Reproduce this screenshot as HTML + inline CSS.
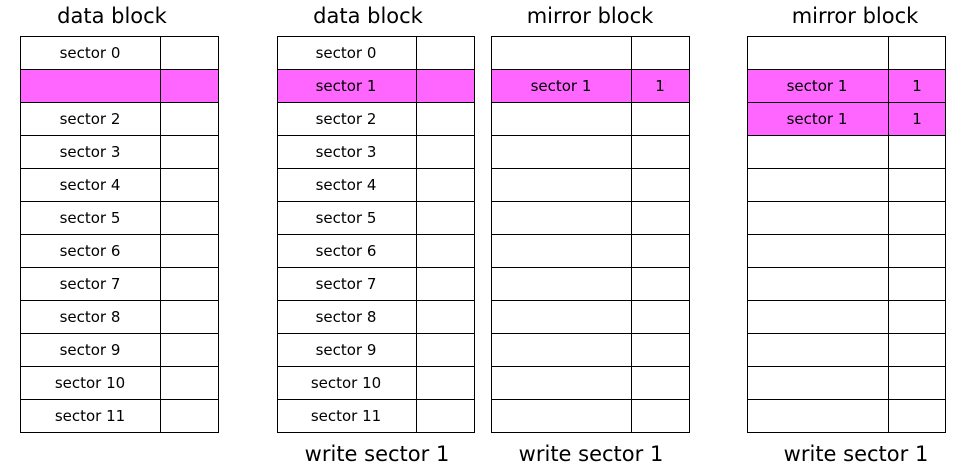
<!DOCTYPE html>
<html><head><meta charset="utf-8"><style>body{margin:0;background:#fff}svg{display:block}</style></head><body>
<svg width="955" height="469" xmlns="http://www.w3.org/2000/svg" font-family="'DejaVu Sans','Liberation Sans',sans-serif">
<rect width="955" height="469" fill="#fff"/>
<g fill="#ff66ff">
<rect x="20" y="69" width="198" height="33"/>
<rect x="277" y="69" width="197" height="33"/>
<rect x="491" y="69" width="198" height="33"/>
<rect x="747" y="69" width="199" height="66"/>
</g>
<g stroke="#000" stroke-width="1" fill="none" shape-rendering="crispEdges">
<path id="g" d=""/>
<rect x="20.5" y="36.5" width="198" height="396"/><line x1="160.5" y1="36" x2="160.5" y2="433"/>
<rect x="277.5" y="36.5" width="197" height="396"/><line x1="416.5" y1="36" x2="416.5" y2="433"/>
<rect x="491.5" y="36.5" width="198" height="396"/><line x1="631.5" y1="36" x2="631.5" y2="433"/>
<rect x="747.5" y="36.5" width="198" height="396"/><line x1="888.5" y1="36" x2="888.5" y2="433"/>
<path d="M20 69.5H218M20 102.5H218M20 135.5H218M20 168.5H218M20 201.5H218M20 234.5H218M20 267.5H218M20 300.5H218M20 333.5H218M20 366.5H218M20 399.5H218"/>
<path d="M277 69.5H474M277 102.5H474M277 135.5H474M277 168.5H474M277 201.5H474M277 234.5H474M277 267.5H474M277 300.5H474M277 333.5H474M277 366.5H474M277 399.5H474"/>
<path d="M491 69.5H689M491 102.5H689M491 135.5H689M491 168.5H689M491 201.5H689M491 234.5H689M491 267.5H689M491 300.5H689M491 333.5H689M491 366.5H689M491 399.5H689"/>
<path d="M747 69.5H946M747 102.5H946M747 135.5H946M747 168.5H946M747 201.5H946M747 234.5H946M747 267.5H946M747 300.5H946M747 333.5H946M747 366.5H946M747 399.5H946"/>
</g>
<g font-size="21" text-anchor="middle" fill="#000">
<text x="112" y="23">data block</text>
<text x="368" y="23">data block</text>
<text x="590" y="23">mirror block</text>
<text x="855" y="23">mirror block</text>
<text x="377" y="461">write sector 1</text>
<text x="591" y="461">write sector 1</text>
<text x="856" y="461">write sector 1</text>
</g>
<g font-size="15" text-anchor="middle" fill="#000">
<text x="90" y="58">sector 0</text>
<text x="90" y="124">sector 2</text><text x="90" y="157">sector 3</text><text x="90" y="190">sector 4</text><text x="90" y="223">sector 5</text><text x="90" y="256">sector 6</text><text x="90" y="289">sector 7</text><text x="90" y="322">sector 8</text><text x="90" y="355">sector 9</text><text x="90" y="388">sector 10</text><text x="90" y="421">sector 11</text>
<text x="346" y="58">sector 0</text><text x="346" y="91">sector 1</text>
<text x="346" y="124">sector 2</text><text x="346" y="157">sector 3</text><text x="346" y="190">sector 4</text><text x="346" y="223">sector 5</text><text x="346" y="256">sector 6</text><text x="346" y="289">sector 7</text><text x="346" y="322">sector 8</text><text x="346" y="355">sector 9</text><text x="346" y="388">sector 10</text><text x="346" y="421">sector 11</text>
<text x="561" y="91">sector 1</text><text x="660" y="91">1</text>
<text x="817" y="91">sector 1</text><text x="917" y="91">1</text>
<text x="817" y="124">sector 1</text><text x="917" y="124">1</text>
</g>
</svg>
</body></html>
